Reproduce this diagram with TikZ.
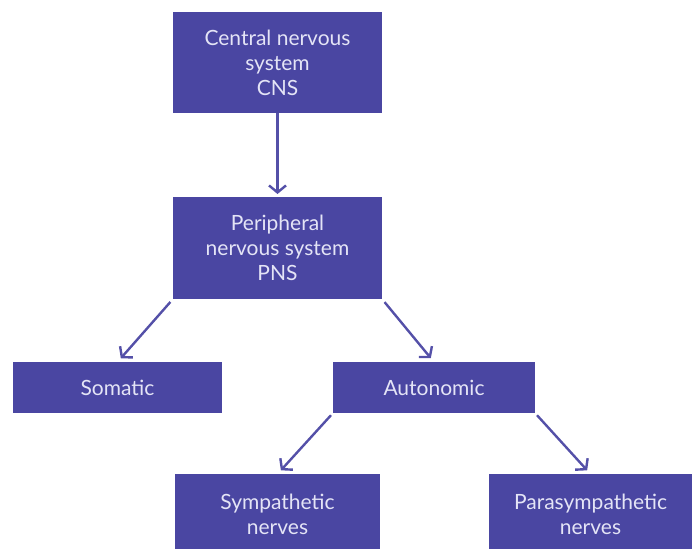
\documentclass[tikz,border=0pt]{standalone}
\usepackage{fontspec}
\setmainfont{Lato}
\usepackage{tikz}
\usetikzlibrary{arrows.meta,positioning}
\definecolor{nervepurple}{RGB}{74,70,162}
\definecolor{arrowpurple}{RGB}{84,80,168}
\definecolor{nervetext}{RGB}{228,228,246}

\begin{document}
\begin{tikzpicture}[
    x=1pt, y=-1pt,
    box/.style={fill=nervepurple, text=nervetext, inner sep=0pt, outer sep=0pt,
                minimum width=209pt, align=center,
                font=\fontsize{21}{25}\selectfont},
    arr/.style={-{Straight Barb[length=7pt,width=17pt,line width=2.4pt]},
                draw=arrowpurple, line width=2.4pt},
]
    \useasboundingbox (0,0) rectangle (692,548);
    \clip (0,0) rectangle (692,548);

    \node[box, minimum height=101pt] (cns)  at (277.5,62.5) {Central nervous\\system\\CNS};
    \node[box, minimum height=102pt] (pns)  at (277.5,248)  {Peripheral\\nervous system\\PNS};
    \node[box, minimum height=51pt]  (soma) at (117.5,387.5) {Somatic};
    \node[box, minimum height=51pt, minimum width=202pt] (auto) at (434,387.5) {Autonomic};
    \node[box, minimum height=80pt, minimum width=205pt] (symp) at (277.5,514) {Sympathetic\\nerves};
    \node[box, minimum height=80pt, minimum width=203pt] (para) at (590.5,514) {Parasympathetic\\nerves};

    \draw[arr, shorten >=3pt] (cns) -- (pns);
    \draw[arr, shorten <=4pt, shorten >=5pt] (pns.south west) -- (soma.north);
    \draw[arr, shorten <=4pt, shorten >=5pt] (pns.south east) -- (auto.north);
    \draw[arr, shorten <=3pt, shorten >=5pt] (auto.south west) -- (symp.north);
    \draw[arr, shorten <=3pt, shorten >=5pt] (auto.south east) -- (para.north);
\end{tikzpicture}
\end{document}
